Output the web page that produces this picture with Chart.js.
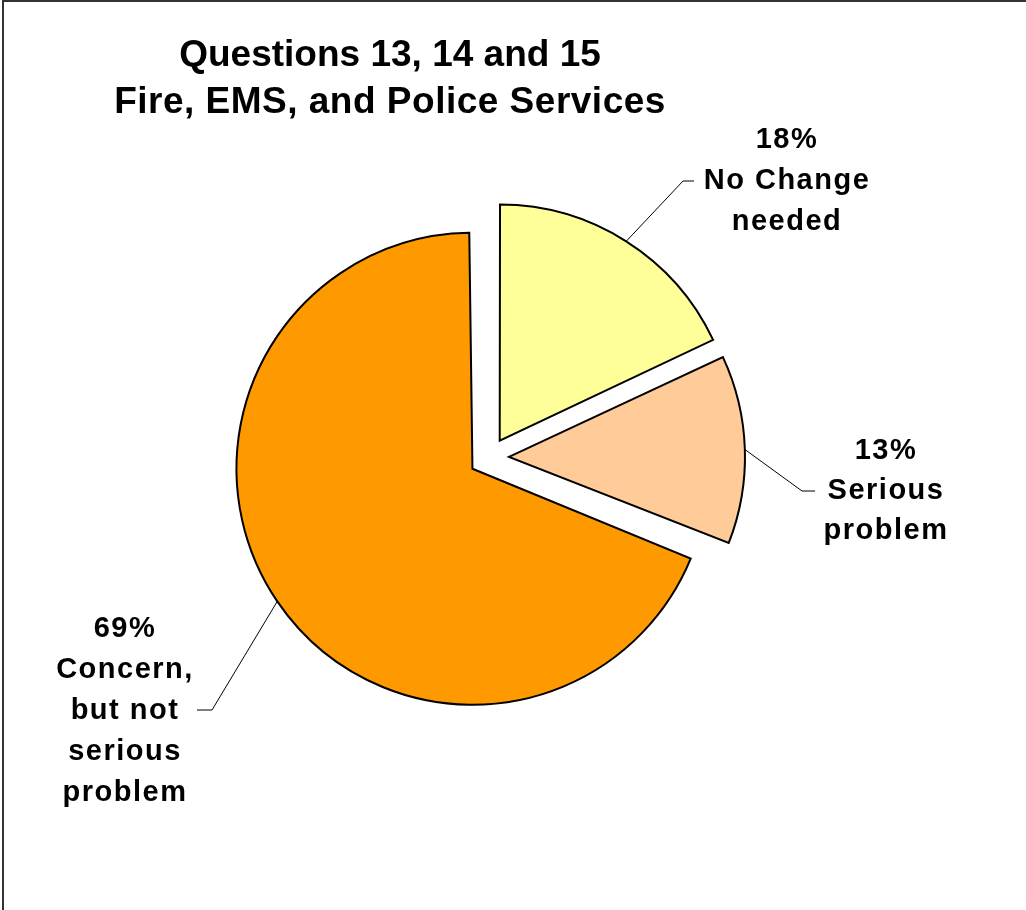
<!DOCTYPE html>
<html><head><meta charset="utf-8">
<script src="https://cdn.jsdelivr.net/npm/chart.js@4.4.1/dist/chart.umd.min.js"></script>
<style>html,body{margin:0;padding:0;background:#fff;overflow:hidden}canvas{display:block}</style>
</head><body>
<canvas id="c" width="1026" height="910"></canvas>
<script>
const titleLines = ["Questions 13, 14 and 15", "Fire, EMS, and Police Services"];
const categories = ["No Change needed", "Serious problem", "Concern, but not serious problem"];
const values = [18, 13, 69];
const labelLines = [["No Change", "needed"], ["Serious", "problem"], ["Concern,", "but not", "serious", "problem"]];
const colors = ["#FFFF99", "#FFCC99", "#FF9900"];

// layout (positions only)
const R = 236, OFFSET = 80;
const labelLayout = [
  {cx: 787, y: 148, lh: 41, elbow: [683, 181], end: [694, 181]},
  {cx: 886, y: 459, lh: 40, elbow: [802, 491], end: [815, 491]},
  {cx: 125, y: 637, lh: 41, elbow: [212, 710], end: [197, 710]}
];

const frame = {
  id: 'frame',
  beforeDraw(chart) {
    const ctx = chart.ctx;
    ctx.save();
    ctx.fillStyle = '#fff';
    ctx.fillRect(0, 0, chart.width, chart.height);
    ctx.fillStyle = '#333';
    ctx.fillRect(2, 0, 2, chart.height);
    ctx.fillRect(2, 0, chart.width, 2);
    ctx.restore();
  }
};

const radiusFix = {
  id: 'radiusFix',
  afterDatasetsUpdate(chart) {
    chart.getDatasetMeta(0).data.forEach(arc => {
      const off = (arc.options.offset || 0) / 4;
      const fix = 1 - Math.sin(Math.min(Math.PI, arc.circumference || 0));
      arc.outerRadius = R - off * fix;
    });
  }
};

const labelsPlugin = {
  id: 'labelsPlugin',
  afterDraw(chart) {
    const ctx = chart.ctx;
    const meta = chart.getDatasetMeta(0);
    const total = values.reduce((a, b) => a + b, 0);
    ctx.save();
    // title
    ctx.fillStyle = '#000';
    ctx.textAlign = 'center';
    ctx.textBaseline = 'alphabetic';
    ctx.font = 'bold 37px "Liberation Sans", Arial, sans-serif';
    ctx.letterSpacing = '0px';
    ctx.fillText(titleLines[0], 390, 66);
    ctx.letterSpacing = '0.5px';
    ctx.fillText(titleLines[1], 390, 113);
    // data labels
    meta.data.forEach((arc, i) => {
      const mid = (arc.startAngle + arc.endAngle) / 2;
      const off = (arc.options.offset || 0) / 4;
      const ax = arc.x + Math.cos(mid) * (R + off);
      const ay = arc.y + Math.sin(mid) * (R + off);
      const L = labelLayout[i];
      ctx.strokeStyle = '#000';
      ctx.lineWidth = 1;
      ctx.beginPath();
      ctx.moveTo(ax, ay);
      ctx.lineTo(L.elbow[0], L.elbow[1]);
      ctx.lineTo(L.end[0], L.end[1]);
      ctx.stroke();
      ctx.font = 'bold 29px "Liberation Sans", Arial, sans-serif';
      ctx.letterSpacing = '1.5px';
      ctx.fillStyle = '#000';
      const pct = Math.round(values[i] / total * 100) + '%';
      const lines = [pct].concat(labelLines[i]);
      lines.forEach((t, k) => ctx.fillText(t, L.cx, L.y + k * L.lh));
      ctx.letterSpacing = '0px';
    });
    ctx.restore();
  }
};

new Chart(document.getElementById('c'), {
  type: 'pie',
  data: {
    labels: categories,
    datasets: [{
      data: values,
      backgroundColor: colors,
      borderColor: '#000',
      borderWidth: 2,
      borderJoinStyle: 'miter',
      offset: OFFSET,
      hoverOffset: 0
    }]
  },
  options: {
    responsive: false,
    animation: false,
    events: [],
    radius: R,
    layout: {padding: {left: 0, right: 48, top: 5, bottom: 0}},
    plugins: {legend: {display: false}, tooltip: {enabled: false}, title: {display: false}}
  },
  plugins: [frame, radiusFix, labelsPlugin]
});
</script>
</body></html>
